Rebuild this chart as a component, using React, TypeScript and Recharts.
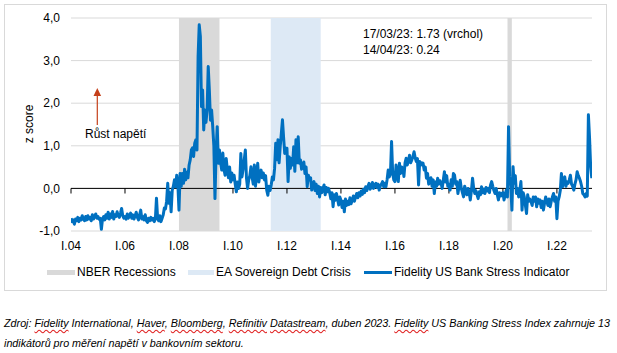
import React from "react";
import {
  CartesianGrid,
  ComposedChart,
  Line,
  ReferenceArea,
  ReferenceLine,
  XAxis,
  YAxis,
} from "recharts";

// z score, two readings per month (Jan 2004 .. mid-Apr 2023)
const S2004 = [-0.70, -0.78, -0.74, -0.84, -0.72, -0.76, -0.68, -0.78, -0.70, -0.74, -0.64, -0.72, -0.76, -0.66, -0.74, -0.64, -0.72, -0.68, -0.76, -0.62, -0.72, -0.66, -0.60, -0.70];
const S2005 = [-0.66, -0.72, -0.70, -0.96, -0.72, -0.66, -0.74, -0.62, -0.70, -0.56, -0.72, -0.60, -0.68, -0.54, -0.72, -0.62, -0.66, -0.55, -0.64, -0.68, -0.58, -0.47, -0.64, -0.70];
const S2006 = [-0.66, -0.72, -0.60, -0.70, -0.64, -0.58, -0.70, -0.62, -0.72, -0.64, -0.56, -0.68, -0.74, -0.62, -0.51, -0.72, -0.66, -0.74, -0.62, -0.76, -0.80, -0.70, -0.76, -0.68];
const S2007 = [-0.74, -0.70, -0.78, -0.72, -0.23, -0.70, -0.76, -0.64, -0.78, -0.70, -0.62, -0.46, -0.48, -0.30, 0.12, -0.35, -0.10, -0.55, -0.04, 0.05, 0.20, 0.04, 0.31, 0.10];
const S2008 = [-0.51, 0.35, 0.05, 0.35, 0.12, 0.45, 0.20, 0.38, 0.25, 0.55, 0.67, 0.90, 0.95, 0.75, 1.06, 1.14, 0.90, 3.10, 3.84, 3.57, 1.92, 2.31, 1.37, 1.84];
const S2009 = [1.55, 1.84, 2.86, 2.30, 1.60, 1.84, 1.45, 1.00, -0.24, 0.85, 1.45, 0.59, 0.90, 0.60, 0.43, 0.83, 0.45, 0.31, 0.70, 0.43, 0.25, 0.50, 0.15, 0.36];
const S2010 = [0.20, 0.31, 0.10, -0.08, 0.15, 0.00, 0.10, 0.82, 0.27, 0.45, 0.67, 0.90, 0.25, 0.00, 0.20, 0.30, 0.51, 0.27, 0.10, 0.55, 0.05, 0.30, 0.59, 0.15];
const S2011 = [0.35, 0.43, 0.25, 0.36, 0.20, 0.30, -0.04, -0.16, 0.05, -0.05, 0.08, 0.27, 0.20, 0.47, 1.06, 0.67, 1.14, 0.60, 0.98, 1.29, 1.61, 1.20, 0.82, 0.94];
const S2012 = [0.94, 0.16, 0.74, 0.47, 0.70, 0.55, 0.98, 0.40, 1.14, 0.60, 1.21, 0.59, 0.67, 0.45, 0.51, 0.62, 0.35, 0.50, 0.04, 0.31, 0.20, 0.25, -0.04, 0.10];
const S2013 = [0.16, -0.05, 0.10, -0.12, 0.05, -0.20, 0.02, -0.10, 0.00, 0.08, -0.15, 0.02, -0.08, 0.00, -0.10, -0.24, -0.10, -0.43, -0.15, -0.28, -0.12, -0.25, -0.39, -0.20];
const S2014 = [-0.28, -0.45, -0.30, -0.55, -0.25, -0.40, -0.30, -0.38, -0.22, -0.36, -0.28, -0.18, -0.30, -0.20, -0.12, -0.22, -0.10, -0.18, -0.06, -0.14, -0.02, -0.10, 0.04, -0.05];
const S2015 = [0.05, 0.12, -0.02, 0.04, 0.14, 0.00, 0.08, 0.12, 0.02, 0.10, -0.04, 0.06, 0.10, 0.16, 0.04, 0.12, 0.04, 0.20, 0.43, 0.27, 0.35, 1.10, 0.35, 0.20];
const S2016 = [0.16, 0.55, 0.30, 0.16, 0.59, 0.35, 0.50, 0.47, 0.28, 0.60, 0.71, 0.55, 0.65, 0.78, 0.60, 0.67, 0.75, 0.86, 0.72, 0.63, 0.70, 0.08, 0.63, 0.55];
const S2017 = [0.60, 0.59, 0.43, 0.50, 0.24, 0.35, 0.10, 0.16, 0.25, 0.05, 0.20, -0.12, 0.15, 0.05, 0.24, 0.10, 0.18, 0.12, 0.00, 0.20, 0.39, 0.15, 0.30, 0.05];
const S2018 = [0.10, -0.04, 0.20, 0.05, 0.35, 0.31, 0.10, 0.16, -0.12, 0.05, 0.19, 0.00, -0.10, -0.20, 0.05, -0.04, -0.15, 0.00, -0.10, -0.27, -0.05, 0.24, 0.00, -0.12];
const S2019 = [-0.05, -0.15, -0.24, -0.08, -0.15, 0.04, -0.10, -0.02, -0.12, 0.02, -0.06, 0.00, -0.10, 0.08, 0.16, 0.05, -0.05, -0.12, 0.00, -0.15, -0.27, -0.10, -0.18, -0.12];
const S2020 = [-0.10, -0.27, -0.15, -0.04, -0.20, 1.45, 0.27, 0.05, -0.51, 0.51, 0.12, 0.30, -0.12, 0.00, -0.20, -0.05, 0.16, -0.51, -0.10, -0.20, -0.40, -0.59, -0.15, -0.30];
const S2021 = [-0.25, -0.31, -0.40, -0.20, -0.30, -0.20, -0.43, -0.25, -0.35, -0.27, -0.45, -0.30, -0.51, -0.35, -0.20, -0.30, -0.40, -0.25, -0.43, -0.30, -0.20, -0.12, -0.30, -0.20];
const S2022 = [-0.71, -0.30, -0.20, -0.05, 0.35, 0.04, 0.20, 0.27, 0.05, 0.15, 0.12, 0.20, 0.31, 0.10, 0.05, -0.04, 0.10, 0.20, 0.39, 0.30, 0.24, 0.16, 0.05, -0.12];
const S2023 = [-0.15, -0.20, -0.12, -0.18, 1.73, 1.20, 0.51, 0.24];

const STRESS_BY_YEAR = [
  S2004, S2005, S2006, S2007, S2008, S2009, S2010, S2011, S2012, S2013,
  S2014, S2015, S2016, S2017, S2018, S2019, S2020, S2021, S2022, S2023,
];
const START_YEAR = 2004;
const STEPS_PER_YEAR = 24;

const NBER_RECESSIONS = [
  [2008.0, 2009.5],
  [2020.17, 2020.33],
];
const EA_DEBT_CRISIS = [[2011.4, 2013.25]];

const X_TICKS = [2004, 2006, 2008, 2010, 2012, 2014, 2016, 2018, 2020, 2022];
const Y_TICKS = [-1, 0, 1, 2, 3, 4];

const FONT = '"Liberation Sans", Arial, sans-serif';
const LINE_BLUE = "#0070c0";
const GREY_FILL = "#d9d9d9";
const BLUE_FILL = "#dde9f5";

const data = STRESS_BY_YEAR.flatMap((values, yi) =>
  values.map((v, i) => ({ t: START_YEAR + yi + i / STEPS_PER_YEAR, v })),
);

const wavy: React.CSSProperties = {
  textDecorationLine: "underline",
  textDecorationStyle: "wavy",
  textDecorationColor: "#e02020",
  textUnderlineOffset: 2,
};

function LegendItem({ left, swatch, label }: { left: number; swatch: React.ReactNode; label: string }) {
  return (
    <div style={{ position: "absolute", left, top: 264, display: "flex", alignItems: "center", height: 16 }}>
      {swatch}
      <span style={{ marginLeft: 2, fontSize: 12, whiteSpace: "nowrap" }}>{label}</span>
    </div>
  );
}

export default function App() {
  return (
    <div
      style={{
        position: "absolute",
        left: 0,
        top: 0,
        width: 617,
        height: 353,
        background: "#fff",
        fontFamily: FONT,
        color: "#000",
        overflow: "hidden",
      }}
    >
      <div
        style={{
          position: "absolute",
          left: 4,
          top: 4,
          width: 601,
          height: 285,
          border: "1px solid #d9d9d9",
        }}
      />

      <div style={{ position: "absolute", left: 0, top: 0 }}>
        <ComposedChart
          width={617}
          height={260}
          data={data}
          margin={{ top: 18, right: 25, bottom: 5, left: 21 }}
          style={{ fontFamily: FONT }}
        >
          <CartesianGrid vertical={false} stroke="#d9d9d9" strokeWidth={1} />
          {NBER_RECESSIONS.map(([a, b]) => (
            <ReferenceArea key={`n${a}`} x1={a} x2={b} fill={GREY_FILL} fillOpacity={1} stroke="none" />
          ))}
          {EA_DEBT_CRISIS.map(([a, b]) => (
            <ReferenceArea key={`e${a}`} x1={a} x2={b} fill={BLUE_FILL} fillOpacity={1} stroke="none" />
          ))}
          <XAxis
            type="number"
            dataKey="t"
            domain={[2004, 2023.3]}
            allowDataOverflow
            ticks={X_TICKS}
            tickFormatter={(t: number) => `I.${String(t % 100).padStart(2, "0")}`}
            axisLine={false}
            tickLine={false}
            tickMargin={4}
            height={24}
            tick={{ fontSize: 12, fill: "#000" }}
          />
          <YAxis
            type="number"
            domain={[-1, 4]}
            ticks={Y_TICKS}
            tickFormatter={(v: number) => v.toFixed(1).replace(".", ",")}
            axisLine={false}
            tickLine={false}
            tickMargin={5}
            width={50}
            tick={{ fontSize: 12, fill: "#000" }}
          />
          <ReferenceLine y={0} stroke="#000" strokeWidth={1} />
          {X_TICKS.map((t) => (
            <ReferenceLine
              key={`tk${t}`}
              segment={[
                { x: t, y: 0 },
                { x: t, y: -0.12 },
              ]}
              stroke="#000"
              strokeWidth={1}
            />
          ))}
          <Line
            type="linear"
            dataKey="v"
            stroke={LINE_BLUE}
            strokeWidth={3}
            strokeLinejoin="round"
            dot={false}
            activeDot={false}
            isAnimationActive={false}
          />
        </ComposedChart>
      </div>

      {/* y axis title */}
      <div
        style={{
          position: "absolute",
          left: 29,
          top: 124,
          fontSize: 12,
          whiteSpace: "nowrap",
          transform: "translate(-50%, -50%) rotate(-90deg)",
        }}
      >
        z score
      </div>

      {/* annotations */}
      <div style={{ position: "absolute", left: 363, top: 26, fontSize: 12, lineHeight: "16px", whiteSpace: "nowrap" }}>
        <div>17/03/23: 1.73 (vrchol)</div>
        <div>14/04/23: 0.24</div>
      </div>
      <div style={{ position: "absolute", left: 85, top: 127, fontSize: 12, lineHeight: "14px", whiteSpace: "nowrap" }}>
        Růst napětí
      </div>
      <svg style={{ position: "absolute", left: 90, top: 84 }} width={16} height={44}>
        <line x1={7.3} y1={41} x2={7.3} y2={10} stroke="#c5401a" strokeWidth={1.2} />
        <polygon points="3.5,12 7.3,4 11.1,12" fill="#c5401a" />
      </svg>

      {/* legend */}
      <LegendItem
        left={47}
        swatch={<span style={{ display: "inline-block", width: 28, height: 5, background: GREY_FILL }} />}
        label="NBER Recessions"
      />
      <LegendItem
        left={188}
        swatch={<span style={{ display: "inline-block", width: 26, height: 5, background: BLUE_FILL }} />}
        label="EA Sovereign Debt Crisis"
      />
      <LegendItem
        left={364}
        swatch={<span style={{ display: "inline-block", width: 28, height: 3, background: LINE_BLUE }} />}
        label="Fidelity US Bank Stress Indicator"
      />

      {/* source note */}
      <div
        style={{
          position: "absolute",
          left: 4,
          top: 313,
          width: 613,
          fontSize: 10.75,
          lineHeight: "20px",
          fontStyle: "italic",
          whiteSpace: "nowrap",
        }}
      >
        <div>
          Zdroj: <span style={wavy}>Fidelity</span> International, <span style={wavy}>Haver</span>,{" "}
          <span style={wavy}>Bloomberg</span>, <span style={wavy}>Refinitiv</span>{" "}
          <span style={wavy}>Datastream</span>, duben 2023. <span style={wavy}>Fidelity</span> US Banking
          Stress Index zahrnuje 13
        </div>
        <div>indikátorů pro měření napětí v bankovním sektoru.</div>
      </div>
    </div>
  );
}
